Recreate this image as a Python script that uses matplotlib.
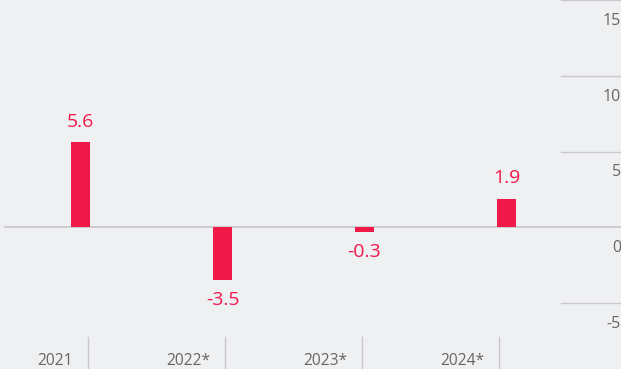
import matplotlib
matplotlib.use("Agg")
import matplotlib.pyplot as plt
import numpy as np

# data
years = ["2021", "2022*", "2023*", "2024*"]
values = [5.6, -3.5, -0.3, 1.9]
value_labels = ["5.6", "-3.5", "-0.3", "1.9"]
y_ticks = [15, 10, 5, 0, -5]

bg = "#eff0f2"
red = "#f0194a"
grey_text = "#666666"
grid_col = "#c9c9cd"

plt.rcParams["font.family"] = ["Open Sans", "DejaVu Sans"]

fig = plt.figure(figsize=(6.21, 3.69), dpi=100, facecolor=bg)
ax = fig.add_axes([0, 0, 1, 1], facecolor=bg)

x = np.arange(len(years))
ax.bar(x, values, width=0.134, color=red, zorder=3)

# limits chosen so zero sits at ~227px from top, ~15px per unit
ax.set_xlim(-0.567, 3.806)
ax.set_ylim(-9.35, 15.0)
for s in ax.spines.values():
    s.set_visible(False)
ax.set_xticks([])
ax.set_yticks([])

# gridlines on the right, zero line across
for t in y_ticks:
    if t == 0:
        ax.axhline(0, xmin=0.008, xmax=1, color=grid_col, lw=1.3, zorder=2)
    else:
        ax.axhline(t, xmin=0.903, xmax=1, color=grid_col, lw=1.0, zorder=2)
    ax.text(1.0, t - 1.38, str(t), transform=ax.get_yaxis_transform(),
            ha="right", va="center", fontsize=11.5, color=grey_text)

# value labels
for xi, v, lab in zip(x, values, value_labels):
    off = 14.5 if v >= 0 else -14.5
    ax.annotate(lab, (xi, v), xytext=(0, off), textcoords="offset points",
                ha="center", va="center", fontsize=14, color=red)

# category axis at the bottom with separators
sep = 0.053 + x * 0.965
for s_x, lab in zip(sep, years):
    ax.plot([s_x, s_x], [-7.25, -9.35], color=grid_col, lw=1.0, clip_on=False)
    ax.text(s_x - 0.105, -8.8, lab, ha="right", va="center",
            fontsize=11.2, color=grey_text)

fig.savefig("out.png", dpi=100, facecolor=bg)
